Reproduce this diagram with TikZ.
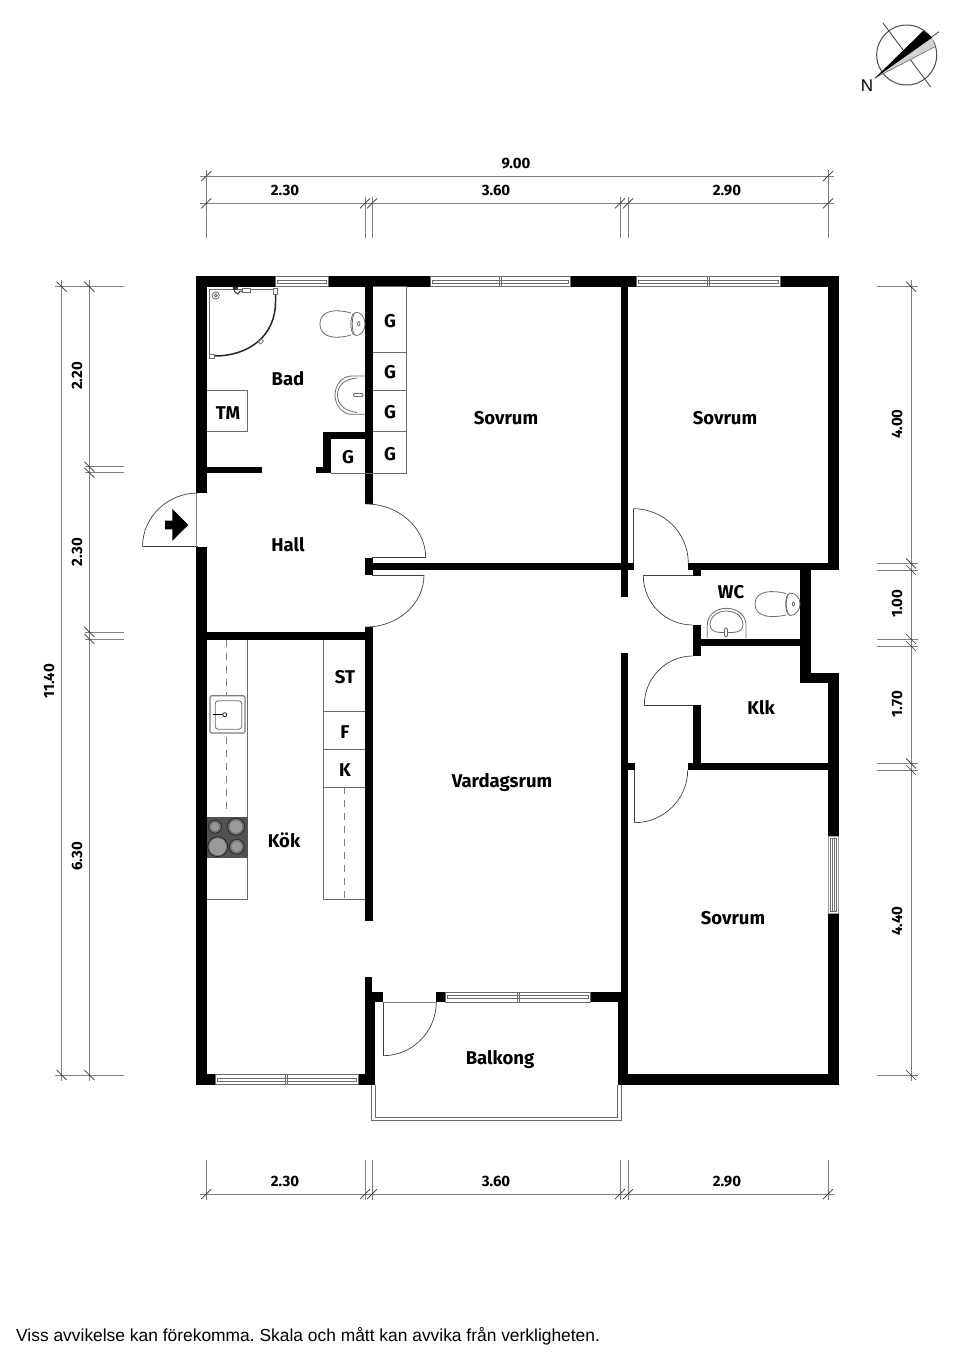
\documentclass[tikz,border=0pt]{standalone}
\usepackage{fontspec}
\setmainfont{Fira Sans}
\newfontfamily\footfont{Liberation Sans}
\usetikzlibrary{calc}
\definecolor{thin}{gray}{0.42}
\definecolor{dimc}{gray}{0.5}
\tikzset{
 wall/.style={fill=black,draw=none},
 thinline/.style={draw=thin,line width=0.8pt},
 doorline/.style={draw=black!75,line width=0.7pt},
 dimline/.style={draw=dimc,line width=1pt},
 slash/.style={draw=black!80,line width=0.7pt},
 dashgray/.style={draw=gray,line width=0.9pt,dash pattern=on 7pt off 6pt},
 roomtext/.style={font=\bfseries\fontsize{18.5}{20}\selectfont,inner sep=0pt,anchor=center,text=black,text height=12.8pt,text depth=0pt},
 dimtext/.style={font=\bfseries\fontsize{15}{16}\selectfont,inner sep=0pt,anchor=center,text=black,text height=10.4pt,text depth=0pt},
}
\newcommand{\doorarc}[6]{\draw[doorline] (#1,#2) .. controls ($(#1,#2)!0.552!(#5,#6)$) and ($(#3,#4)!0.552!(#5,#6)$) .. (#3,#4);}
\newcommand{\winplain}[4]{% x1 x2 y1 y2
 \draw[thinline,fill=white] (#1,#3) rectangle (#2,#4);
 \draw[thinline] (#1+2,#3+3.5) rectangle (#2-2,#4-3.5);}
\newcommand{\winh}[4]{\winplain{#1}{#2}{#3}{#4}
 \draw[thinline] ({(#1+#2)/2-1},#3) -- ({(#1+#2)/2-1},#4) ({(#1+#2)/2+1},#3) -- ({(#1+#2)/2+1},#4);}
\newcommand{\dimX}[1]{\draw[slash] (#1-5,\yy+5) -- (#1+5,\yy-5);}
\newcommand{\dimY}[1]{\draw[slash] (\xx-5,#1-5) -- (\xx+5,#1+5);}
\begin{document}
\frenchspacing
\begin{tikzpicture}[x=1pt,y=-1pt]
\useasboundingbox (0,0) rectangle (960,1358);
% ---- compass
\draw[line width=1pt,draw=black!70] (906.7,55) circle (30);
\draw[line width=0.9pt,draw=black!70] (883,23) -- (930.7,87) (875,78) -- (939,31.7);
\fill[gray!35] (875,78) -- (932,37.5) -- (935,46.7) -- cycle;
\draw[line width=0.6pt,draw=black!60] (875,78) -- (935,46.7);
\fill[black] (875,78) -- (923.3,30.7) -- (932.3,37.5) -- cycle;
\node[font=\footfont\fontsize{17}{20}\selectfont,inner sep=0pt] (north) at (867,85.5) {N};
% ---- walls
\fill[wall] (196,276) rectangle (275,286.7);
\fill[wall] (328,276) rectangle (430,286.7);
\fill[wall] (570,276) rectangle (636,286.7);
\fill[wall] (780,276) rectangle (839,286.7);
\fill[wall] (196,276) rectangle (206.5,493);
\fill[wall] (196,546.7) rectangle (206.5,1085);
\fill[wall] (206,466.7) rectangle (262,473);
\fill[wall] (315.7,466.7) rectangle (331,473);
\fill[wall] (323,431.7) rectangle (331,473);
\fill[wall] (323,431.7) rectangle (365,439);
\fill[wall] (365,276) rectangle (372.7,504);
\fill[wall] (365,557.7) rectangle (372.7,575);
\fill[wall] (365,563) rectangle (634,570);
\fill[wall] (365,627) rectangle (372.7,921);
\fill[wall] (206,631.7) rectangle (372.7,639.7);
\fill[wall] (620.7,276) rectangle (628.3,596.7);
\fill[wall] (620.7,653.3) rectangle (628.3,1002);
\fill[wall] (620.7,763.3) rectangle (635,770);
\fill[wall] (688,562.7) rectangle (839,570);
\fill[wall] (828.3,276) rectangle (839,570);
\fill[wall] (800,562.7) rectangle (811,682.7);
\fill[wall] (800,672.7) rectangle (839,682.7);
\fill[wall] (828.3,672.7) rectangle (839,836);
\fill[wall] (828.3,913) rectangle (839,1085);
\fill[wall] (692.7,562.7) rectangle (700.7,575.7);
\fill[wall] (692.7,625) rectangle (700.7,656);
\fill[wall] (692.7,705.3) rectangle (700.7,770);
\fill[wall] (700,639.3) rectangle (800,646);
\fill[wall] (688,763.3) rectangle (839,770);
\fill[wall] (365,977.3) rectangle (372.3,1002);
\fill[wall] (365,991.7) rectangle (383.3,1002.3);
\fill[wall] (365,1002) rectangle (375,1085);
\fill[wall] (196,1074.3) rectangle (215,1085);
\fill[wall] (358.3,1074.3) rectangle (375,1085);
\fill[wall] (436.3,991.7) rectangle (445.7,1002.3);
\fill[wall] (590.7,991.7) rectangle (628,1002.3);
\fill[wall] (617.7,1002) rectangle (628,1085);
\fill[wall] (617.7,1074.3) rectangle (839,1085);
% ---- windows
\winplain{275}{328}{276.5}{286.5}
\winh{430}{570}{276.5}{286.5}
\winh{636}{780}{276.5}{286.5}
\winh{215}{358.3}{1074.5}{1084.5}
\winh{445.7}{590.7}{992}{1002}
\draw[draw=gray!80,line width=1pt] (828.5,836) rectangle (838.5,913);
\draw[thinline] (830.5,838) rectangle (836.5,911);
\draw[thinline] (832.5,838) -- (832.5,911) (834.5,838) -- (834.5,911);
% ---- doors
\draw[doorline] (198,546.7) -- (142.5,546.7);
\draw[draw=gray,line width=0.8pt] (196.5,493) -- (196.5,546.7);
\doorarc{142.5}{546.7}{198}{493}{142.5}{493}
\draw[doorline] (372,557.7) -- (425.7,557.7);
\doorarc{366}{504}{425.7}{557.7}{425.7}{504}
\draw[doorline] (372,575) -- (424,575);
\doorarc{424}{575}{366}{627}{424}{627}
\draw[doorline] (633.3,563) -- (633.3,508.7);
\doorarc{633.3}{508.7}{688.3}{563}{688.3}{508.7}
\draw[doorline] (692.7,575.7) -- (643.3,575.7);
\doorarc{643.3}{575.7}{692.7}{625}{643.3}{625}
\draw[doorline] (692.7,705.3) -- (644.3,705.3);
\doorarc{644.3}{705.3}{692.7}{656}{644.3}{656}
\draw[doorline] (634.3,770) -- (634.3,822.7);
\doorarc{634.3}{822.7}{687.7}{770}{687.7}{822.7}
\draw[doorline] (383,1002) -- (383,1055.7);
\doorarc{383}{1055.7}{436.3}{1002}{436.3}{1055.7}
\draw[draw=gray,line width=0.8pt] (383,1002.3) -- (436.3,1002.3);
% entrance arrow
\fill[black] (165,520.7) -- (172.3,520.7) -- (172.3,509) -- (188.3,525) -- (172.3,540.7) -- (172.3,529.3) -- (165,529.3) -- cycle;
% ---- balcony rail
\draw[thinline] (371.7,1085) -- (371.7,1120.7) -- (621,1120.7) -- (621,1085);
\draw[thinline] (375,1085) -- (375,1117) -- (617.7,1117) -- (617.7,1085);
% ---- fixtures: closets
\draw[thinline] (372.7,286.7) -- (406.7,286.7) -- (406.7,473) -- (331,473);
\foreach \yv in {352,390,431.7} \draw[thinline] (372.7,\yv) -- (406.7,\yv);
\draw[thinline] (206.5,390) -- (247.7,390) -- (247.7,431.7) -- (206.5,431.7);
% kitchen
\draw[thinline] (247.7,639.7) -- (247.7,899) -- (206.5,899);
\fill[black!68] (206.5,817) rectangle (247.7,858.3);
\foreach \bx/\by/\br in {215/826.7/6.5,236/826.7/8.5,217.7/846.7/10,236.7/846.7/7.5}{
 \draw[black!85,line width=0.8pt,fill=black!55] (\bx,\by) circle (\br);
 \fill[black!40] (\bx,\by) circle (\br-2.3);}
\draw[gray!70,line width=0.5pt] (217.7,846.7) circle (8);
\draw[dashgray] (226.7,640) -- (226.7,695);
\draw[dashgray] (226.7,737) -- (226.7,815);
\draw[rounded corners=1.5pt,fill=white,line width=1.1pt,draw=gray] (210,695.7) rectangle (245,733);
\draw[thinline,rounded corners=3pt] (215.3,700.7) rectangle (241.7,729.3);
\draw[line width=0.9pt] (213,714.7) -- (224.7,714.7);
\draw[line width=0.7pt,fill=white] (224.7,714.7) circle (2);
\draw[thinline] (323.7,639.7) -- (323.7,899) -- (365,899);
\foreach \yv in {711,749.3,787.3} \draw[thinline] (323.7,\yv) -- (365,\yv);
\draw[dashgray] (344.3,787.3) -- (344.3,899);
% shower
\draw[thinline] (209.3,289.3) -- (276,289.3);
\draw[thinline] (209.3,289.3) -- (209.3,356);
\draw[line width=1.5pt,draw=black!85] (275.5,294) -- (275.5,302) .. controls (275.5,335) and (250,356) .. (214,356);
\draw[thinline,fill=white] (273.5,288.5) rectangle (277,294.5);
\draw[thinline,fill=white] (209,354) rectangle (214,358);
\draw[thinline,fill=white,rotate around={-45:(261,341.5)}] (259.5,339.5) rectangle (262.5,343.5);
\draw[thinline] (215.7,295.5) circle (3.6) circle (1.5);
\draw[black!80,line width=1pt] (233,287) -- (235,292) -- (238,294) -- (240,291) -- (244,291);
\draw[thinline,fill=white] (242,288) rectangle (250,292);
\fill[black!80] (233,287) rectangle (238,290);
% toilet bad
\draw[thinline] (351,313) .. controls (338,309) and (320,309) .. (320,324) .. controls (320,339) and (338,339) .. (351,335);
\draw[thinline] (356,312.3) .. controls (351,313) and (351,335) .. (356,335.5) .. controls (361,335.5) and (365,331) .. (365,324);
\draw[thinline] (356,312.3) .. controls (361,312.3) and (365,317) .. (365,324);
\draw[thinline] (353.5,313) .. controls (350,318) and (350,330) .. (353.5,335);
\draw[thinline] (358.7,323.7) ellipse (1.2 and 2.2);
% sink bad
\draw[thinline] (365,376) -- (352,376) .. controls (342,376) and (335,385) .. (335,395) .. controls (335,405) and (342,414.3) .. (352,414.3) -- (365,414.3);
\draw[thinline] (357,378) .. controls (344,379) and (337.5,386) .. (337.5,395) .. controls (337.5,404) and (344,411) .. (357,412.5);
\draw[thinline,fill=white,rounded corners=1pt] (353.5,393.5) rectangle (363,396.5);
% toilet wc
\draw[thinline] (786,593.5) .. controls (773,590) and (755,590) .. (755,604) .. controls (755,618) and (773,618) .. (786,615);
\draw[thinline] (790,593) .. controls (785,595) and (785,613) .. (790,615.5) .. controls (796,615.5) and (800,610) .. (800,604) .. controls (800,598) and (796,593) .. (790,593);
\draw[thinline] (788,594) .. controls (785,598) and (785,610) .. (788,614);
\draw[thinline] (793.5,604) ellipse (1.1 and 2);
% sink wc
\draw[thinline] (707.3,638) -- (707.3,625) .. controls (707.3,615) and (716,608.3) .. (726.5,608.3) .. controls (737,608.3) and (746,615) .. (746,625) -- (746,638);
\draw[thinline] (710,625) .. controls (710,617) and (717,611) .. (726.5,611) .. controls (736,611) and (743,617) .. (743,625) .. controls (743,630) and (738,632.5) .. (732,632.5) -- (721,632.5) .. controls (715,632.5) and (710,630) .. (710,625);
\draw[thinline,fill=white,rounded corners=1pt] (724.5,628) rectangle (727.5,636.5);
% ---- top dimensions
\draw[dimline] (200,176) -- (834,176);
\draw[dimline] (200,203.3) -- (834,203.3);
\draw[dimline] (206.3,170) -- (206.3,238);
\draw[dimline] (828,170) -- (828,238);
\foreach \xv in {365,372,620,628} \draw[dimline] (\xv,196.7) -- (\xv,238);
\def\yy{176}\dimX{206.3}\dimX{828}
\def\yy{203.3}\dimX{206.3}\dimX{365}\dimX{372}\dimX{620}\dimX{628}\dimX{828}
% ---- bottom dimensions
\draw[dimline] (200,1194) -- (834,1194);
\foreach \xv in {206.3,365,372,620,628,828} \draw[dimline] (\xv,1160) -- (\xv,1200);
\def\yy{1194}\dimX{206.3}\dimX{365}\dimX{372}\dimX{620}\dimX{628}\dimX{828}
% ---- left dimensions
\draw[dimline] (61.7,280) -- (61.7,1081);
\draw[dimline] (89.3,280) -- (89.3,1081);
\draw[dimline] (55,286.7) -- (124,286.7);
\draw[dimline] (55,1075) -- (124,1075);
\foreach \yv in {466.7,472.7,632,639} \draw[dimline] (85,\yv) -- (124,\yv);
\def\xx{61.7}\dimY{286.7}\dimY{1075}
\def\xx{89.3}\dimY{286.7}\dimY{466.7}\dimY{472.7}\dimY{632}\dimY{639}\dimY{1075}
% ---- right dimensions
\draw[dimline] (911,280) -- (911,1081);
\foreach \yv in {286.7,563.3,570,639,646,763.3,770,1075} \draw[dimline] (877,\yv) -- (917.7,\yv);
\def\xx{911}\dimY{286.7}\dimY{563.3}\dimY{570}\dimY{639}\dimY{646}\dimY{763.3}\dimY{770}\dimY{1075}
% ---- room labels
\node[roomtext] (bad) at (288,379) {Bad};
\node[roomtext] (tm) at (228,413) {TM};
\node[roomtext] (g1) at (390,321) {G};
\node[roomtext] (g2) at (390,372) {G};
\node[roomtext] (g3) at (390,412) {G};
\node[roomtext] (g4) at (390,454) {G};
\node[roomtext] (g5) at (348,457) {G};
\node[roomtext] (sov1) at (506,418) {Sovrum};
\node[roomtext] (sov2) at (725,418) {Sovrum};
\node[roomtext] (hall) at (288,545) {Hall};
\node[roomtext] (wc) at (731,592) {WC};
\node[roomtext] (klk) at (761,708) {Klk};
\node[roomtext] (var) at (502,781) {Vardagsrum};
\node[roomtext] (st) at (345,677) {ST};
\node[roomtext] (f) at (345,732) {F};
\node[roomtext] (k) at (345,770) {K};
\node[roomtext] (kok) at (284,841) {Kök};
\node[roomtext] (sov3) at (733,918) {Sovrum};
\node[roomtext] (balk) at (500,1058) {Balkong};
% ---- dimension labels
\node[dimtext] (d900) at (516,163) {9.00};
\node[dimtext] (dt1) at (285,190.5) {2.30};
\node[dimtext] (dt2) at (496,190.5) {3.60};
\node[dimtext] (dt3) at (727,190.5) {2.90};
\node[dimtext] (db1) at (285,1181) {2.30};
\node[dimtext] (db2) at (496,1181) {3.60};
\node[dimtext] (db3) at (727,1181) {2.90};
\node[dimtext,rotate=90] (dl0) at (49,681) {11.40};
\node[dimtext,rotate=90] (dl1) at (77,376) {2.20};
\node[dimtext,rotate=90] (dl2) at (77,552) {2.30};
\node[dimtext,rotate=90] (dl3) at (77,856) {6.30};
\node[dimtext,rotate=90] (dr1) at (897,424) {4.00};
\node[dimtext,rotate=90] (dr2) at (897,604) {1.00};
\node[dimtext,rotate=90] (dr3) at (897,704) {1.70};
\node[dimtext,rotate=90] (dr4) at (897,921) {4.40};
% ---- footer
\node[font=\footfont\fontsize{17.4}{20}\selectfont,anchor=base west,inner sep=0pt,text=black] (foot) at (16,1341) {Viss avvikelse kan förekomma. Skala och mått kan avvika från verkligheten.};
\end{tikzpicture}
\end{document}
